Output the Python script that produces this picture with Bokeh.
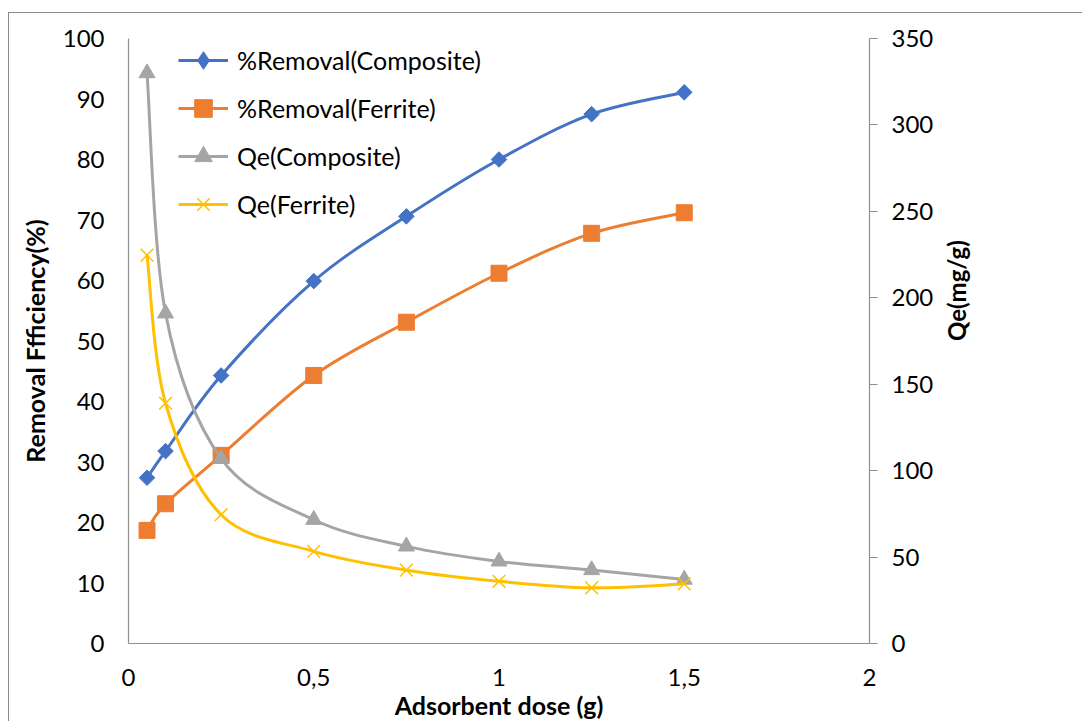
import math
from bokeh.plotting import figure
from bokeh.models import (Range1d, LinearAxis, FixedTicker, Legend, LegendItem,
                          ColumnDataSource)
from bokeh.embed import file_html
from bokeh.resources import INLINE

# ---- data ----
dose = [0.05, 0.1, 0.25, 0.5, 0.75, 1.0, 1.25, 1.5]
removal_composite = [27.4, 31.8, 44.3, 59.9, 70.6, 80.0, 87.5, 91.1]
removal_ferrite = [18.7, 23.1, 31.1, 44.3, 53.1, 61.2, 67.8, 71.2]
qe_composite = [330, 191, 107, 71.6, 56.2, 47.5, 42.5, 37]
qe_ferrite = [224.7, 139, 74.5, 53.3, 42.4, 36, 32.2, 34.5]

x_ticks = [0, 0.5, 1, 1.5, 2]
x_tick_labels = ["0", "0,5", "1", "1,5", "2"]
left_ticks = [0, 10, 20, 30, 40, 50, 60, 70, 80, 90, 100]
right_ticks = [0, 50, 100, 150, 200, 250, 300, 350]

series_names = ["%Removal(Composite)", "%Removal(Ferrite)", "Qe(Composite)", "Qe(Ferrite)"]
colors = ["#4472C4", "#ED7D31", "#A5A5A5", "#FFC000"]

FONT = "Lato"
AX = "#8f8f8f"


def smooth_segments(xs, ys):
    """Catmull-Rom style cubic Bezier segments through the data points."""
    n = len(xs)
    d = dict(x0=[], y0=[], x1=[], y1=[], cx0=[], cy0=[], cx1=[], cy1=[])
    for i in range(n - 1):
        ip = max(i - 1, 0)
        i2 = min(i + 2, n - 1)
        d["x0"].append(xs[i]); d["y0"].append(ys[i])
        d["x1"].append(xs[i + 1]); d["y1"].append(ys[i + 1])
        d["cx0"].append(xs[i] + (xs[i + 1] - xs[ip]) / 6.0)
        d["cy0"].append(ys[i] + (ys[i + 1] - ys[ip]) / 6.0)
        d["cx1"].append(xs[i + 1] - (xs[i2] - xs[i]) / 6.0)
        d["cy1"].append(ys[i + 1] - (ys[i2] - ys[i]) / 6.0)
    return ColumnDataSource(d)


p = figure(width=1074, height=709, output_backend="svg", toolbar_location=None,
           x_range=Range1d(0, 2), y_range=Range1d(0, 100),
           min_border_left=119, min_border_top=25, min_border_right=214,
           min_border_bottom=78)
p.styles = {"border-left": "1px solid #8c8c8c", "border-top": "1px solid #8c8c8c",
            "margin-left": "8px", "margin-top": "12px"}
p.outline_line_color = None
p.grid.visible = False
p.background_fill_color = "white"
p.border_fill_color = "white"

p.extra_y_ranges = {"qe": Range1d(0, 350)}

# axes styling
xa = p.xaxis[0]
xa.ticker = FixedTicker(ticks=x_ticks)
xa.major_label_overrides = {t: l for t, l in zip(x_ticks, x_tick_labels)}
xa.axis_label = "Adsorbent dose (g)"

ya = p.yaxis[0]
ya.ticker = FixedTicker(ticks=left_ticks)
ya.axis_label = "Removal Ffficiency(%)"

ra = LinearAxis(y_range_name="qe", ticker=FixedTicker(ticks=right_ticks),
                axis_label="Qe(mg/g)")
p.add_layout(ra, "right")

for ax in (xa, ya, ra):
    ax.axis_line_color = AX
    ax.axis_line_width = 1.2
    ax.minor_tick_line_color = None
    ax.major_label_text_font = FONT
    ax.major_label_text_font_size = "24px"
    ax.major_label_text_color = "black"
    ax.axis_label_text_font = FONT
    ax.axis_label_text_font_size = "25px"
    ax.axis_label_text_font_style = "bold"
    ax.axis_label_text_color = "black"

xa.major_tick_line_color = None
xa.major_tick_out = 0
xa.major_tick_in = 0
xa.major_label_standoff = 25
xa.axis_label_standoff = 1

ya.major_tick_line_color = None
ya.major_tick_out = 0
ya.major_tick_in = 0
ya.major_label_standoff = 24
ya.axis_label_standoff = 10

ra.axis_label_text_font_size = "24px"
ra.major_tick_line_color = AX
ra.major_tick_out = 8
ra.major_tick_in = 0
ra.major_label_standoff = 14
ra.major_label_text_align = "left"
ra.axis_label_standoff = 20
ra.axis_label_orientation = math.pi / 2

# series
data = [removal_composite, removal_ferrite, qe_composite, qe_ferrite]
ranges = ["default", "default", "qe", "qe"]
markers = ["square", "square", "triangle", "x"]
legend_markers = ["diamond", "square", "triangle", "x"]
sizes = [11, 16, 16, 18]
legend_sizes = [18, 16, 16, 18]
angles = [math.pi / 4, 0, 0, 0]
nan = float("nan")

items = []
for name, ys, rng, col, mk, lmk, sz, lsz, ang in zip(series_names, data, ranges, colors,
                                                   markers, legend_markers, sizes,
                                                   legend_sizes, angles):
    src = smooth_segments(dose, ys)
    p.bezier(x0="x0", y0="y0", x1="x1", y1="y1", cx0="cx0", cy0="cy0",
             cx1="cx1", cy1="cy1", source=src, line_color=col, line_width=3,
             y_range_name=rng)
    leg_line = p.line(x=[nan], y=[nan], line_color=col, line_width=3, y_range_name=rng)
    if mk == "x":
        sc = p.scatter(x=dose, y=ys, marker=mk, size=sz, line_color=col,
                       line_width=1.5, y_range_name=rng)
        leg_sc = sc
    else:
        sc = p.scatter(x=dose, y=ys, marker=mk, size=sz, angle=ang,
                       fill_color=col, line_color=col, y_range_name=rng)
        leg_sc = p.scatter(x=[nan], y=[nan], marker=lmk, size=lsz,
                           fill_color=col, line_color=col, y_range_name=rng)
    items.append(LegendItem(label=name, renderers=[leg_line, leg_sc]))

legend = Legend(items=items, location=(50, 417), margin=0, padding=0,
                glyph_width=50, glyph_height=44, label_height=44, spacing=4,
                label_standoff=9, label_text_font=FONT,
                label_text_font_size="25px", label_text_color="black",
                background_fill_alpha=0, border_line_color=None)
p.add_layout(legend, "center")

open("out.html", "w").write(file_html(p, INLINE))
